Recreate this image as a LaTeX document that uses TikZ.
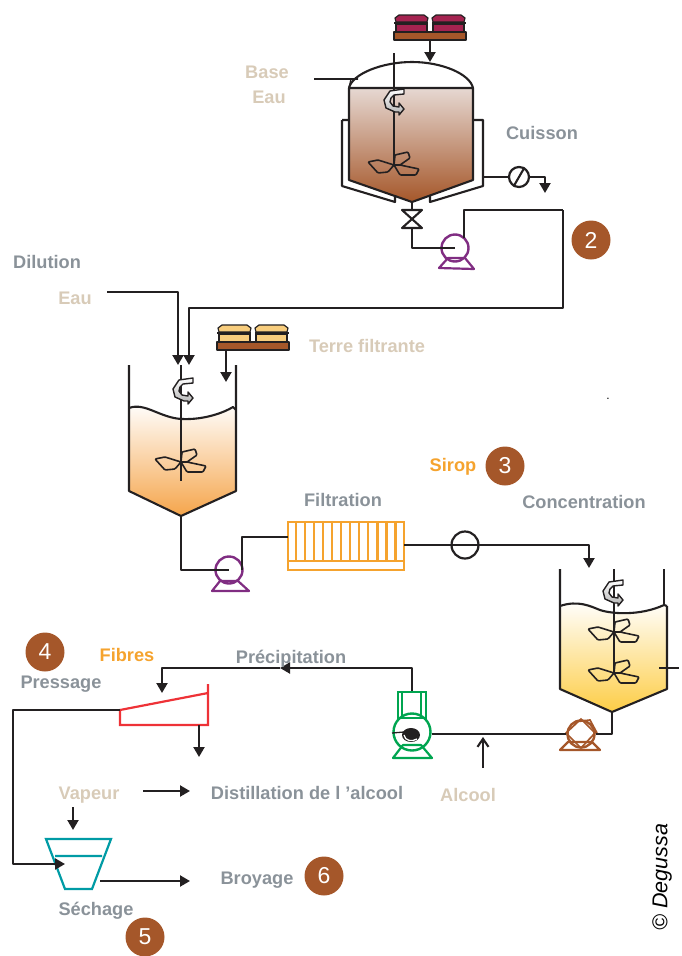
\documentclass[tikz,border=0pt]{standalone}
\usepackage{fontspec}
\setmainfont{Liberation Sans}
\usepackage{xcolor}
\definecolor{pipe}{RGB}{35, 32, 33}
\definecolor{rust}{RGB}{165, 87, 42}
\definecolor{slate}{RGB}{138, 146, 153}
\definecolor{sand}{RGB}{216, 203, 184}
\definecolor{amber}{RGB}{245, 163, 46}
\definecolor{plum}{RGB}{128, 45, 130}
\definecolor{crimson}{RGB}{165, 35, 80}
\definecolor{butter}{RGB}{248, 205, 125}
\definecolor{mint}{RGB}{0, 165, 80}
\definecolor{rosy}{RGB}{230, 216, 210}
\definecolor{gold}{RGB}{253, 205, 70}
\definecolor{peach}{RGB}{245, 165, 75}
\definecolor{redline}{RGB}{238, 50, 55}
\definecolor{teal2}{RGB}{0, 155, 165}
\usepackage{tikz}
\usetikzlibrary{arrows.meta, positioning, calc}

\begin{document}
\begin{tikzpicture}[
    x=1pt, y=-1pt,
    line/.style={-, line width=2.1pt, color=pipe, line join=round},
    flow/.style={line, -{Triangle[length=10pt, width=11pt]}},
    grey/.style={font=\fontsize{18.2}{20}\selectfont\bfseries, text=slate, inner sep=0pt},
    tan/.style={grey, text=sand},
    hot/.style={grey, text=amber},
    badge/.style={circle, fill=rust, text=white, minimum size=39pt, inner sep=0pt,
      font=\fontsize{23}{26}\selectfont},
    pump/.style={circle, draw=#1, line width=2.4pt, minimum size=27pt, inner sep=0pt},
    base/.style={line width=2.2pt, draw=#1, line join=round},
    gauge/.style={circle, draw=pipe, line width=2.2pt, inner sep=0pt},
    impeller/.pic={
      \draw[line, line width=1.6pt, rounded corners=1pt]
        (0,0) -- (-6,7) -- (-16,8) -- (-26,-3) -- (-16,-5) -- cycle
        (0,0) -- (1,-10) -- (14,-13) -- (16,-7) -- (6,0) -- cycle
        (0,0) -- (6,10) -- (22,10) -- (25,4) -- (6,0) -- cycle;
    },
    stirrer/.pic={
      \draw[line, line width=1.4pt, top color=white, bottom color=black!30]
        (10,-11) -- (-4,-9) -- (-10,0) -- (-8,8) -- (1,12) -- (5,12) -- (5,15)
        -- (10,9) -- (5,3) -- (5,7) -- (-1,6) -- (-4,2) -- (-3,-2) -- (0,-5) -- (10,-6) -- cycle;
    },
    pics/cake/.style={code={
      \foreach \dx in {0,37}{
        \draw[line, line width=1.2pt, fill=#1] (\dx+1,4) -- (\dx+5,1) -- (\dx+30,1) -- (\dx+34,4)
          -- (\dx+33,8) -- (\dx+2,8) -- cycle;
        \draw[line, line width=1.2pt, fill=#1] (\dx+2,10) rectangle (\dx+33,18);
      }
      \draw[line, line width=2.2pt] (0,9) -- (34,9) (38,9) -- (72,9);
      \draw[line, line width=2pt, fill=rust] (0,18) rectangle (72,26);
    }}
  ]
    \useasboundingbox (0,0) rectangle (682,956);

    % cuisson
    \pic at (394,14) {cake=crimson};
    \shade[top color=rosy, middle color=rosy!75!rust, bottom color=rust] (349,88) -- (473,88) -- (473,180) -- (412,202) -- (349,180) -- cycle;
    \draw[line] (349,88) -- (473,88) -- (473,180) -- (412,202) -- (349,180) -- cycle;
    \draw[line] (349,88) .. controls (352,74) and (382,62) .. (412,62) .. controls (442,62) and (470,74) .. (473,88);
    \draw[line] (342,120) -- (349,120) (342,120) -- (342,186) -- (395,202) -- (395,195);
    \draw[line] (473,120) -- (483,120) -- (483,186) -- (430,202) -- (430,195);
    \draw[line, line width=1.3pt] (351,79) -- (358,79) (351,79) -- (349,88);
    \draw[line] (394,53) -- (394,165);
    \pic at (394,100) {stirrer};
    \pic at (394,165) {impeller};

    \coordinate (boil) at (412,202);
    \coordinate (valvein) at (412,210);
    \coordinate (valveout) at (412,228);
    \draw[line] (402,210) -- (422,210) -- (402,228) -- (422,228) -- cycle;
    \node[pump=plum] (pumpa) at (455,248) {};
    \draw[base=plum] (439,268) -- (474,269) -- (465,258) -- (448,258) -- cycle;
    \node[gauge, minimum size=20pt] (steam) at (519,177) {};
    \draw[line] (steam.240) -- (steam.60);
    \coordinate (jacket) at (483,177);
    \coordinate (drain) at (545,193);
    \coordinate (basein) at (314,79);
    \coordinate (basetip) at (358,79);
    \coordinate (pumpaup) at (464,238);
    \coordinate (bend) at (563,210);
    \coordinate (cakeaout) at (430,40);
    \coordinate (cakeain) at (430,62);

    \draw[line] (basein) -- (basetip);
    \draw[flow] (cakeaout) -- (cakeain);
    \draw[line] (boil) -- (valvein);
    \draw[line] (valveout) |- (pumpa.center);
    \draw[line] (jacket) -- (steam);
    \draw[flow] (steam) -| (drain);
    \draw[line] (pumpaup) |- (bend);

    % dilution
    \pic at (217,324) {cake=butter};
    \shade[top color=white, middle color=peach!35, bottom color=peach] (129,408) .. controls (145,402) and (160,418) .. (182,419)
      .. controls (205,420) and (225,412) .. (233,407) -- (236,410) -- (236,491) -- (181,516) -- (129,491) -- cycle;
    \draw[line] (129,365) -- (129,491) -- (181,516) -- (236,491) -- (236,365);
    \draw[line] (129,408) .. controls (145,402) and (160,418) .. (182,419)
      .. controls (205,420) and (225,412) .. (233,407) -- (236,410);
    \draw[line] (181,365) -- (181,481);
    \pic at (183,389) {stirrer};
    \pic at (181,462) {impeller};

    \coordinate (mixout) at (181,516);
    \coordinate (waterin) at (107,292);
    \coordinate (watertip) at (178,365);
    \coordinate (syrupin) at (189,365);
    \coordinate (cakebout) at (226,349);
    \coordinate (cakebin) at (226,382);
    \node[pump=plum] (pumpb) at (229,570) {};
    \draw[base=plum] (212,591) -- (249,591) -- (238,581) -- (220,581) -- cycle;
    \coordinate (pumpbend) at (242,570);

    \draw[flow] (waterin) -| (watertip);
    \draw[flow] (bend) |- (563,308) -| (syrupin);
    \draw[flow] (cakebout) -- (cakebin);
    \draw[line] (mixout) |- (pumpb.center);

    % filtration
    \node[draw=amber, line width=2.2pt, minimum width=116pt, minimum height=48pt, inner sep=0pt] (filter) at (346,546) {};
    \foreach \i in {1,...,12}
      \draw[draw=amber, line width=2.2pt] ($(filter.north west)+(\i*9.05,0)$) -- ($(filter.north west)+(\i*9.05,40)$);
    \draw[draw=amber, line width=2.2pt] ($(filter.north west)+(0,40)$) -- ($(filter.north east)+(0,40)$);
    \coordinate (filterin) at (288,537);
    \coordinate (filterout) at (404,545);
    \coordinate (concin) at (589,568);
    \node[gauge, minimum size=27pt] (meter) at (465,545) {};

    \draw[line] (pumpbend) |- (filterin);
    \draw[flow] (filterout) -| (concin);

    % concentration
    \shade[top color=white, middle color=gold!35, bottom color=gold] (560,606) .. controls (578,600) and (590,606) .. (600,610)
      .. controls (612,614) and (640,616) .. (664,605) -- (667,606) -- (667,689) -- (612,712) -- (560,689) -- cycle;
    \draw[line] (560,569) -- (560,689) -- (612,712) -- (667,689) -- (667,606);
    \draw[line] (664,569) -- (664,606);
    \draw[line] (560,606) .. controls (578,600) and (590,606) .. (600,610)
      .. controls (612,614) and (640,616) .. (664,605) -- (667,606);
    \draw[line] (614,569) -- (614,673);
    \pic at (613,591) {stirrer};
    \pic at (614,632) {impeller};
    \pic at (614,673) {impeller};
    \coordinate (stubl) at (659,668);
    \coordinate (stubr) at (679,668);
    \draw[line] (stubl) -- (stubr);

    \coordinate (evapout) at (612,712);
    \node[pump=rust] (pumpc) at (581,734) {};
    \draw[base=rust] (560,750) -- (600,750) -- (592,742) -- (568,742) -- cycle;
    \draw[draw=rust, line width=1.7pt] (566,733) -- (581,719) -- (595,733) -- (581,748) -- cycle
      (574,722) -- (590,720) -- (597,733);

    % precipitation
    \node[circle, draw=mint, line width=2.4pt, minimum size=37pt, inner sep=0pt] (pumpd) at (412,732) {};
    \draw[base=mint] (393,758) -- (432,758) -- (421,745) -- (403,745) -- cycle;
    \node[draw=mint, line width=2.4pt, minimum width=28pt, minimum height=26pt, inner sep=0pt] (motor) at (412,705) {};
    \draw[draw=mint, line width=1.5pt] (421,692) -- (421,718);
    \draw[draw=mint, line width=1.5pt] (402,692) -- (402,718);
    \fill[pipe] (411,735) ellipse [x radius=9, y radius=7];
    \draw[line, line width=1.3pt] (392,733) -- (404,732);
    \draw[white, line width=1.3pt] (404,735) .. controls (405,741) and (412,742) .. (417,739);

    \coordinate (alcoolin) at (483,768);
    \coordinate (alcooltip) at (483,737);
    \coordinate (precmid) at (280,668);
    \coordinate (pressin) at (162,693);

    \draw[line] (evapout) |- (pumpc.east);
    \draw[line] (pumpc.west) -- (pumpd.east |- pumpc.west);
    \draw[line, -{Straight Barb[length=8pt, width=11pt]}] (alcoolin) -- (alcooltip);
    \draw[flow] (motor.north) |- (precmid);
    \draw[flow] (precmid) -| (pressin);

    % pressage et sechage
    \draw[draw=redline, line width=2.2pt] (208,684) -- (208,725) -- (120,725) -- (120,710) -- (208,693);
    \draw[draw=teal2, line width=2.2pt] (46,839) -- (111,839) -- (92,889) -- (65,889) -- cycle (55,856) -- (102,856);

    \coordinate (pressout) at (120,710);
    \coordinate (dryerin) at (65,864);
    \coordinate (presslow) at (199,725);
    \coordinate (pressdown) at (199,757);
    \coordinate (vapa) at (73,807);
    \coordinate (vapb) at (73,830);
    \coordinate (alca) at (143,791);
    \coordinate (alcb) at (190,791);
    \coordinate (brya) at (100,881);
    \coordinate (bryb) at (190,881);

    \draw[flow] (pressout) -- (13,710) |- (dryerin);
    \draw[flow] (presslow) -- (pressdown);
    \draw[flow] (vapa) -- (vapb);
    \draw[flow] (alca) -- (alcb);
    \draw[flow] (brya) -- (bryb);

    % textes
    \node[tan] (base) at (267,72) {Base};
    \node[tan] (eaua) at (269,97) {Eau};
    \node[grey] (cuisson) at (542,133) {Cuisson};
    \node[grey] (dilution) at (47,262) {Dilution};
    \node[tan] (eaub) at (75,298) {Eau};
    \node[tan] (terre) at (367,346) {Terre filtrante};
    \node[hot] (sirop) at (453,467) {Sirop};
    \node[grey] (filtration) at (343,500) {Filtration};
    \node[grey] (concentration) at (584,502) {Concentration};
    \node[hot] (fibres) at (127,655) {Fibres};
    \node[grey] (precipitation) at (291,659) {Précipitation};
    \node[grey] (pressage) at (61,684) {Pressage};
    \node[tan] (vapeur) at (89,795) {Vapeur};
    \node[grey] (distillation) at (307,793) {Distillation de l ’alcool};
    \node[tan] (alcool) at (468,795) {Alcool};
    \node[grey] (broyage) at (257,880) {Broyage};
    \node[grey] (sechage) at (96,911) {Séchage};
    \node[font=\fontsize{21.5}{24}\selectfont\itshape, rotate=90, inner sep=0pt] (degussa) at (662,877) {© Degussa};
    \node[font=\fontsize{12}{12}\selectfont, inner sep=0pt] (point) at (608,399) {.};

    \node[badge] (two) at (591,240) {2};
    \node[badge] (three) at (505,466) {3};
    \node[badge] (four) at (45,652) {4};
    \node[badge] (five) at (145,937) {5};
    \node[badge] (six) at (324,876) {6};
  \end{tikzpicture}
\end{document}
